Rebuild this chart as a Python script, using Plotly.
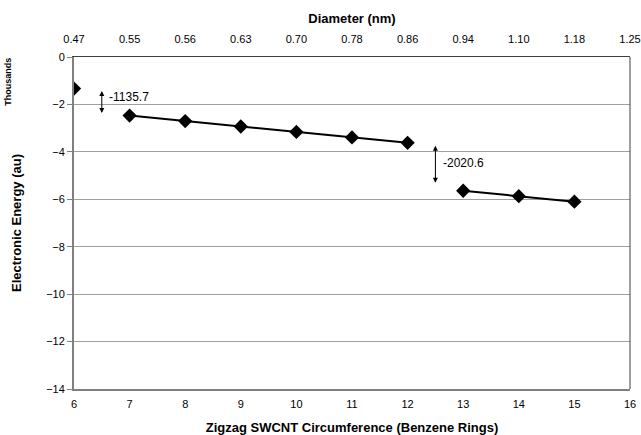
import plotly.graph_objects as go

rings = [6, 7, 8, 9, 10, 11, 12, 13, 14, 15]
energy_k = [-1.33, -2.47, -2.70, -2.93, -3.16, -3.39, -3.62, -5.64, -5.87, -6.10]
top_tickvals = [6, 7, 8, 9, 10, 11, 12, 13, 14, 15, 16]
diameter_labels = ["0.47", "0.55", "0.56", "0.63", "0.70", "0.78", "0.86", "0.94", "1.10", "1.18", "1.25"]
y_ticks = [0, -2, -4, -6, -8, -10, -12, -14]

FONT = "Liberation Sans, Arial, sans-serif"

fig = go.Figure()
seg_x = rings[1:7] + [None] + rings[7:]
seg_y = energy_k[1:7] + [None] + energy_k[7:]
fig.add_trace(go.Scatter(x=seg_x, y=seg_y, mode="lines", line=dict(color="black", width=2),
                         connectgaps=False, hoverinfo="skip", showlegend=False))
fig.add_trace(go.Scatter(x=rings, y=energy_k, mode="markers",
                         marker=dict(symbol="diamond", size=11, color="black"), showlegend=False))
fig.add_trace(go.Scatter(x=[6, 16], y=[0, 0], xaxis="x2", mode="markers",
                         marker=dict(opacity=0), hoverinfo="skip", showlegend=False))

fig.update_layout(
    width=641, height=435,
    margin=dict(l=74, r=11, t=57, b=46),
    paper_bgcolor="white", plot_bgcolor="white",
    font=dict(family=FONT, size=11, color="black"),
    xaxis=dict(range=[6, 16], tickvals=top_tickvals, ticks="", showgrid=False,
               zeroline=False, showline=True, linecolor="#808080", linewidth=2,
               tickfont=dict(size=11), automargin=False, ticklabelstandoff=4,
               ticklabeloverflow="allow",
               title=dict(text="<b>Zigzag SWCNT Circumference (Benzene Rings)</b>",
                          font=dict(size=13), standoff=24)),
    xaxis2=dict(range=[6, 16], overlaying="x", side="top", tickvals=top_tickvals,
                ticktext=diameter_labels, ticks="", showgrid=False, zeroline=False,
                showline=True, linecolor="#404040", linewidth=1, automargin=False,
                tickfont=dict(size=11), ticklabelstandoff=9, ticklabeloverflow="allow",
                title=dict(text="<b>Diameter (nm)</b>", font=dict(size=13), standoff=6)),
    yaxis=dict(range=[-14, 0], tickvals=y_ticks, ticks="outside", ticklen=5,
               tickcolor="#808080", showgrid=True, gridcolor="#a0a0a0", gridwidth=1,
               zeroline=False, showline=True, linecolor="#808080", linewidth=2,
               automargin=False, tickfont=dict(size=11),
               title=dict(text="<b>Electronic Energy (au)</b>", font=dict(size=13), standoff=22)),
    shapes=[dict(type="line", xref="paper", yref="paper", x0=1, x1=1, y0=0, y1=1,
                 line=dict(color="#404040", width=1))],
    annotations=[
        dict(text="<b>Thousands</b>", xref="paper", yref="paper", x=-0.118, y=1.005,
             textangle=-90, showarrow=False, font=dict(size=9), xanchor="center", yanchor="top"),
        dict(x=6.5, y=-2.36, ax=6.5, ay=-1.37, xref="x", yref="y", axref="x", ayref="y",
             text="", showarrow=True, arrowhead=2, arrowsize=1, arrowwidth=1,
             arrowside="end+start", arrowcolor="black"),
        dict(x=6.6, y=-1.7, xref="x", yref="y", text="-1135.7", showarrow=False,
             xanchor="left", font=dict(size=12)),
        dict(x=12.5, y=-5.3, ax=12.5, ay=-3.68, xref="x", yref="y", axref="x", ayref="y",
             text="", showarrow=True, arrowhead=2, arrowsize=1, arrowwidth=1,
             arrowside="end+start", arrowcolor="black"),
        dict(x=12.6, y=-4.47, xref="x", yref="y", text="-2020.6", showarrow=False,
             xanchor="left", font=dict(size=12)),
    ],
)

fig.write_html("out.html")
